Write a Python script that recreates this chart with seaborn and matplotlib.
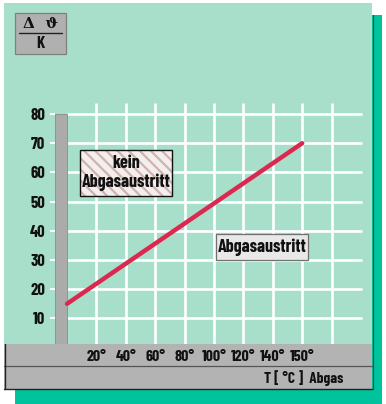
import matplotlib
matplotlib.use("Agg")
import matplotlib.pyplot as plt
import seaborn as sns
import numpy as np
from matplotlib.patches import Rectangle
from matplotlib import font_manager

sns.set_theme(style="white")

# ---------------- data ----------------
x_tick_labels = ["20°", "40°", "60°", "80°", "100°", "120°", "140°", "150°"]
y_ticks = [10, 20, 30, 40, 50, 60, 70, 80]
line_temps = ["0°", "150°"]        # start at the wall, end at 150°
line_values = [15, 70]
bar_height = 80
y_label_top = "Δ  ϑ"
y_label_bottom = "K"
x_label = "T [ °C ]  Abgas"
box_no = "kein\nAbgasaustritt"
box_yes = "Abgasaustritt"

# ---------------- fonts ----------------
names = {f.name for f in font_manager.fontManager.ttflist}
STRETCH = "normal"
if "Barlow Condensed" in names:
    FAM = ["Barlow Condensed", "DejaVu Sans"]
elif "Archivo Narrow" in names:
    FAM = ["Archivo Narrow", "DejaVu Sans"]
else:
    FAM = ["DejaVu Sans"]
    STRETCH = "condensed"
sns.set_style("white")
plt.rcParams["font.family"] = FAM

W, H = 386, 404
fig = plt.figure(figsize=(W / 100, H / 100), dpi=100)
fig.patch.set_facecolor("white")

# background / decoration layer in pixel coordinates
bg = fig.add_axes([0, 0, 1, 1], zorder=0)
bg.set_xlim(0, W)
bg.set_ylim(H, 0)
bg.axis("off")

MINT = "#a8dfcb"
TEAL = "#00c29c"
GREY = "#b3b3b3"
INK = "#111111"

# teal shadow
bg.add_patch(Rectangle((372, 15), 10, 389, facecolor=TEAL, edgecolor="none"))
bg.add_patch(Rectangle((15, 389), 367, 15, facecolor=TEAL, edgecolor="none"))
# mint panel
bg.add_patch(Rectangle((4, 3), 368, 341, facecolor=MINT, edgecolor="none"))
bg.plot([372.5, 372.5], [15, 389], color="#2a4a40", lw=0.8)
# grey band
bg.add_patch(Rectangle((4, 344), 368, 45, facecolor=GREY, edgecolor="none"))
bg.plot([4, 372], [366, 366], color="#555555", lw=0.9)
bg.plot([4.5, 4.5], [344, 389], color="#222222", lw=1.0)
bg.plot([4, 372], [388.5, 388.5], color="#222222", lw=1.0)
bg.text(343, 378, x_label, ha="right", va="center", fontsize=11,
        fontweight="bold", fontstretch=STRETCH, color=INK)

# y-unit box
bg.add_patch(Rectangle((15, 13), 51, 41, facecolor="#b0b0b0", edgecolor="#808080", lw=0.9))
bg.text(40.5, 24, y_label_top, ha="center", va="center", fontsize=11,
        fontweight="bold", color=INK, family=["DejaVu Serif"])
bg.plot([19, 62], [33, 33], color="#222222", lw=1.0)
bg.text(40.5, 44, y_label_bottom, ha="center", va="center", fontsize=12,
        fontweight="bold", fontstretch=STRETCH, color=INK)

# ---------------- main chart axes ----------------
def px_to_pos(px):
    return (px - 67) / 29.4

def py_to_val(py):
    return (347.6 - py) / 2.92

ax_l, ax_r, ax_b, ax_t = 55, 372, 344, 90
ax = fig.add_axes([ax_l / W, (H - ax_b) / H, (ax_r - ax_l) / W, (ax_b - ax_t) / H], zorder=2)
ax.set_facecolor("none")
ax.set_xlim(px_to_pos(ax_l), px_to_pos(ax_r))
ax.set_ylim(py_to_val(ax_b), py_to_val(ax_t))
for s in ax.spines.values():
    s.set_visible(False)

positions = np.arange(1, len(x_tick_labels) + 2)   # grid columns incl. one extra
tick_pos = np.arange(1, len(x_tick_labels) + 1)

# grid
ax.hlines(y_ticks, 0, px_to_pos(362), color="white", lw=1.9, zorder=1)
ax.vlines(positions, 0, py_to_val(103), color="white", lw=1.9, zorder=1)

# wall bar
ax.bar([px_to_pos(61)], [bar_height], width=px_to_pos(67) - px_to_pos(55),
       color="#ababab", edgecolor="#8c8c8c", lw=0.6, zorder=2)

# line
pos_map = {"0°": 0}
pos_map.update({lab: i + 1 for i, lab in enumerate(x_tick_labels)})
lx = [pos_map[t] for t in line_temps]
sns.lineplot(x=lx, y=line_values, ax=ax, color="#dc2850", lw=3.2, zorder=3)
for l in ax.lines:
    l.set_solid_capstyle("round")

# ticks
ax.set_xticks(tick_pos)
ax.set_xticklabels(x_tick_labels)
ax.set_yticks(y_ticks)
ax.set_yticklabels([str(v) for v in y_ticks])
ax.tick_params(axis="x", length=0, pad=4, labelsize=11.5, labelcolor=INK)
ax.tick_params(axis="y", length=3.6, width=1.5, color="white", direction="out",
               pad=3.6, labelsize=12, labelcolor=INK, left=True)
for t in ax.get_xticklabels() + ax.get_yticklabels():
    t.set_fontweight("bold")
    t.set_fontstretch(STRETCH)

# annotation boxes (pixel layer above chart)
top = fig.add_axes([0, 0, 1, 1], zorder=3)
top.set_xlim(0, W)
top.set_ylim(H, 0)
top.axis("off")
top.set_facecolor("none")
plt.rcParams["hatch.color"] = "#cfb3ad"
plt.rcParams["hatch.linewidth"] = 1.6
top.add_patch(Rectangle((80, 150), 92, 46, facecolor="#f4efee", edgecolor="#cfb3ad",
                        hatch="\\\\\\", lw=0))
top.add_patch(Rectangle((80, 150), 92, 46, facecolor="none", edgecolor=INK, lw=1.0))
top.text(126, 173, box_no, ha="center", va="center", fontsize=13, fontweight="bold",
         fontstretch=STRETCH, color=INK, linespacing=1.15)
top.add_patch(Rectangle((216, 234), 92, 26, facecolor="#e8e8e8", edgecolor="#707070", lw=0.9))
top.text(262, 247, box_yes, ha="center", va="center", fontsize=13, fontweight="bold",
         fontstretch=STRETCH, color=INK)

fig.savefig("out.png", dpi=100)
